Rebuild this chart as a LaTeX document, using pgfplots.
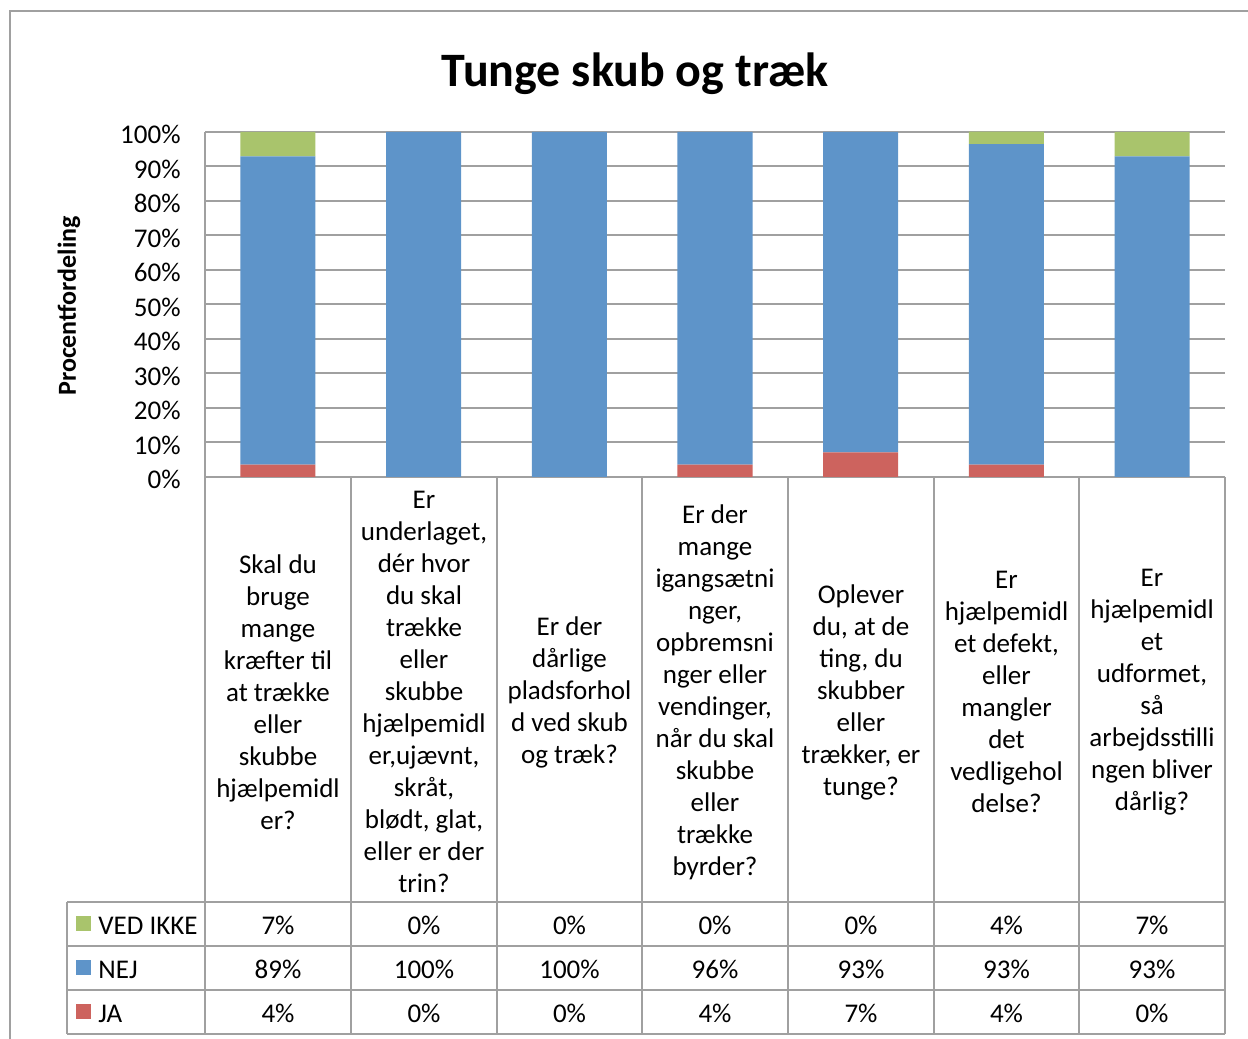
\documentclass[border=0pt]{standalone}
\usepackage{pgfplots}
\usepackage{pgfplotstable}
\pgfplotsset{compat=1.18}
\usepackage{fontspec}
\setmainfont{Carlito}

\definecolor{jared}{RGB}{205,99,94}
\definecolor{nejblue}{RGB}{94,148,201}
\definecolor{vedgreen}{RGB}{169,196,108}
\definecolor{linegray}{RGB}{160,160,160}

\newcommand{\cellfont}{\fontsize{13.5}{16}\selectfont}

% andele i procent (n = 28 svar)
\pgfplotstableread{
x  ja   nej   ved
1  3.6  89.3  7.1
2  0    100   0
3  0    100   0
4  3.6  96.4  0
5  7.1  92.9  0
6  3.6  92.9  3.6
7  0    92.9  7.1
}\data

\begin{document}
\begin{tikzpicture}
\useasboundingbox (0,0) rectangle (624pt,519.5pt);

\begin{axis}[
    at={(102.5pt,281pt)}, anchor=south west,
    scale only axis,
    width=510pt, height=172.5pt,
    ybar stacked,
    bar width=37.5pt,
    xmin=0.5, xmax=7.5,
    ymin=0, ymax=100,
    xtick=\empty,
    ytick={0,10,...,100},
    yticklabel={\pgfmathprintnumber{\tick}\%},
    yticklabel style={font=\cellfont, inner sep=0pt, xshift=-12pt, yshift=-1.25pt},
    /pgf/number format/assume math mode=true,
    major tick length=0pt,
    axis x line*=bottom,
    axis y line*=left,
    axis line style={linegray, line width=1pt, -},
    ymajorgrids,
    grid style={linegray, line width=1pt},
    clip=false,
]
\addplot[fill=jared, draw=none] table[x=x, y=ja] {\data};
\addplot[fill=nejblue, draw=none] table[x=x, y=nej] {\data};
\addplot[fill=vedgreen, draw=none] table[x=x, y=ved] {\data};
\end{axis}

\begin{scope}[x=0.5pt, y=-0.5pt, shift={(0pt,519.5pt)}]
  % ramme om diagrammet
  \draw[linegray, line width=1pt] (10,1060) -- (10,11) -- (1260,11);

  % titel og aksetitel
  \node[anchor=base, font=\fontsize{24}{28}\selectfont\bfseries] at (635,87) {Tunge skub og træk};
  \node[rotate=90, font=\fontsize{13}{16}\selectfont\bfseries] at (69,306) {Procentfordeling};

  % datatabel
  \foreach \xx in {205,351,497,642,788,934,1079,1225}
    \draw[linegray, line width=1pt] (\xx,477) -- (\xx,1034);
  \draw[linegray, line width=1pt] (67,902) -- (67,1034);
  \foreach \yy in {902,946,990,1034}
    \draw[linegray, line width=1pt] (67,\yy) -- (1225,\yy);

  \begin{scope}[every node/.style={align=center, font=\cellfont, inner sep=0pt}]
    \node at (278,692) {Skal du\\bruge\\mange\\kræfter til\\at trække\\eller\\skubbe\\hjælpemidl\\er?};
    \node at (424,692) {Er\\underlaget,\\dér hvor\\du skal\\trække\\eller\\skubbe\\hjælpemidl\\er,ujævnt,\\skråt,\\blødt, glat,\\eller er der\\trin?};
    \node at (569.5,692) {Er der\\dårlige\\pladsforhol\\d ved skub\\og træk?};
    \node at (715,692) {Er der\\mange\\igangsætni\\nger,\\opbremsni\\nger eller\\vendinger,\\når du skal\\skubbe\\eller\\trække\\byrder?};
    \node at (861,692) {Oplever\\du, at de\\ting, du\\skubber\\eller\\trækker, er\\tunge?};
    \node at (1006.5,692) {Er\\hjælpemidl\\et defekt,\\eller\\mangler\\det\\vedligehol\\delse?};
    \node at (1152,692) {Er\\hjælpemidl\\et\\udformet,\\så\\arbejdsstilli\\ngen bliver\\dårlig?};
  \end{scope}

  % forklaring i tabellens venstre kolonne
  \fill[vedgreen] (76,916) rectangle (91,931);
  \fill[nejblue] (76,960) rectangle (91,975);
  \fill[jared] (76,1004) rectangle (91,1019);
  \begin{scope}[every node/.style={anchor=base west, font=\cellfont, inner sep=0pt}]
    \node at (98,935) {VED IKKE};
    \node at (98,979) {NEJ};
    \node at (98,1023) {JA};
  \end{scope}

  \begin{scope}[every node/.style={anchor=base, font=\cellfont, inner sep=0pt}]
    \foreach \cx/\a/\b/\c in {278/7/89/4, 424/0/100/0, 569.5/0/100/0, 715/0/96/4,
                              861/0/93/7, 1006.5/4/93/4, 1152/7/93/0} {
      \node at (\cx,935) {\a\%};
      \node at (\cx,979) {\b\%};
      \node at (\cx,1023) {\c\%};
    }
  \end{scope}
\end{scope}
\end{tikzpicture}
\end{document}
